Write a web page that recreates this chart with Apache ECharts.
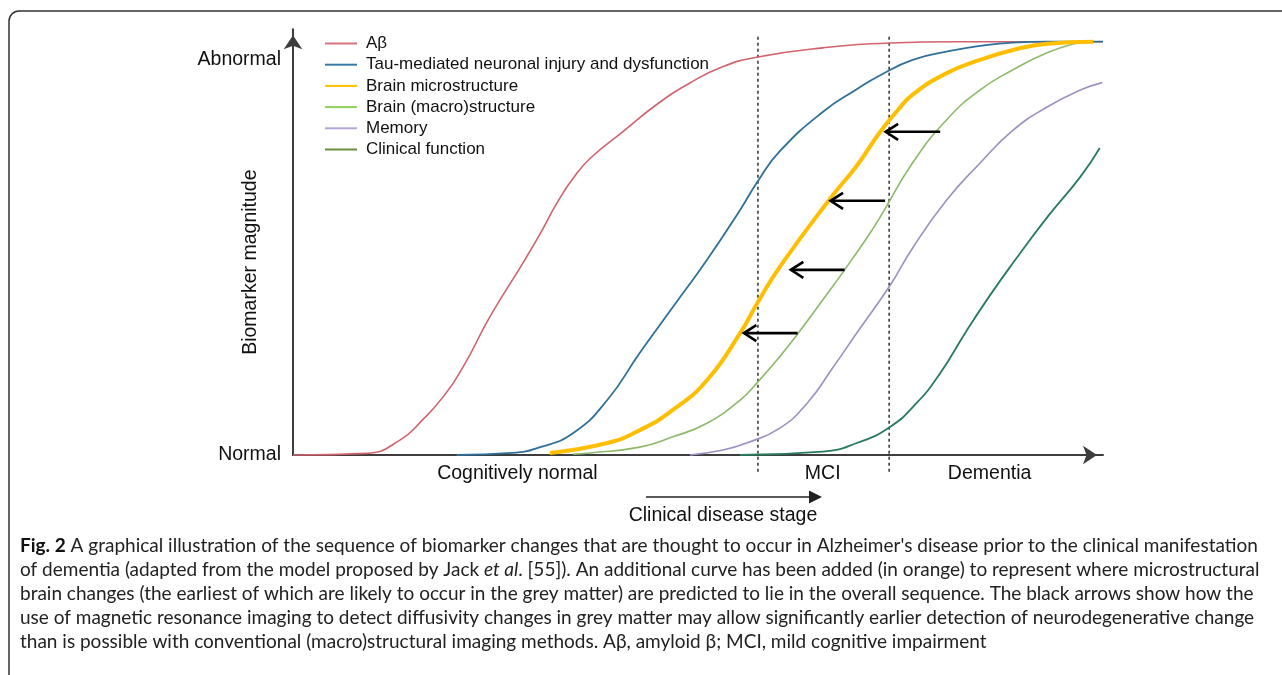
<!DOCTYPE html>
<html><head><meta charset="utf-8">
<script src="https://cdn.jsdelivr.net/npm/echarts@6/dist/echarts.min.js"></script>
<style>html,body{margin:0;padding:0;background:#fff}#c{width:1282px;height:675px}</style>
</head><body><div id="c"></div>
<script>
// ---- data (x: disease progression 0-100, y: biomarker magnitude 0-100) ----
const seriesNames = ['Aβ','Tau-mediated neuronal injury and dysfunction','Brain microstructure','Brain (macro)structure','Memory','Clinical function'];
const abeta = [[0,0],[9.1,0.4],[13.2,3.6],[16.0,8.5],[18.5,14.0],[21.0,21.3],[24.3,33.4],[28.4,46.5],[30.5,53.5],[32.6,61.0],[34.6,67.0],[36.7,71.8],[40.7,78.2],[44.9,84.8],[49.0,90.0],[53.1,94.0],[57.4,96.3],[65.4,98.5],[73.7,99.7],[82.0,100],[100,100]];
const tau = [[20.2,0],[27.0,0.5],[30.5,1.9],[34.6,5.3],[38.8,13.3],[42.8,24.7],[46.9,35.8],[51.1,47.2],[55.2,59.3],[57.4,66.3],[60.1,73.5],[65.4,83.0],[69.6,88.5],[72.5,91.9],[76.5,95.6],[80.7,97.6],[84.8,99.0],[88.9,99.8],[93.1,100],[100,100]];
const micro = [[31.7,0.5],[38.8,2.9],[42.8,6.0],[46.9,10.9],[51.1,18.1],[55.2,29.5],[57.4,37.0],[60.1,45.5],[66.3,62.0],[69.6,70.0],[72.5,78.2],[74.6,83.3],[76.5,87.2],[80.7,92.4],[84.8,95.6],[88.9,98.0],[93.1,99.5],[98.8,100]];
const macro = [[34.6,0.2],[36.7,0.5],[42.8,1.9],[46.9,4.4],[51.1,7.7],[55.2,13.3],[57.4,17.7],[60.1,23.8],[62.3,29.3],[65.4,37.5],[68.1,44.8],[70.9,52.7],[72.5,57.6],[76.5,70.7],[80.7,81.1],[84.8,88.3],[88.9,93.2],[93.1,97.3],[96.8,99.7],[98.0,100]];
const memory = [[49.0,0],[53.1,1.2],[56.0,2.9],[60.1,6.5],[63.5,12.6],[66.7,21.3],[69.6,29.5],[73.7,41.0],[76.5,50.1],[80.7,61.7],[84.8,70.6],[88.9,78.6],[93.1,84.2],[97.2,88.3],[99.9,90.1]];
const clinical = [[55.2,0],[65.4,0.8],[69.6,2.9],[73.7,6.8],[77.0,12.6],[79.9,19.8],[83.2,30.2],[86.0,38.5],[88.9,46.5],[93.1,57.5],[97.2,67.3],[99.6,74.3]];
const stageBounds = [57.4, 73.6];
// arrows: [tail x on macro curve, head x on micro curve, y]
const detectionArrows = [[62.3,55.6,29.5],[68.1,61.4,44.8],[73.1,66.3,61.5],[79.9,73.1,78.2]];
const xLabelNames = ['Cognitively normal','MCI','Dementia'];
const xLabelPos = [27.7, 65.4, 86.0];
const yLabelNames = ['Normal','Abnormal'];
const yLabelPos = [0, 95.6];
const captionLines = [
 "Fig. 2 A graphical illustration of the sequence of biomarker changes that are thought to occur in Alzheimer's disease prior to the clinical manifestation",
 "of dementia (adapted from the model proposed by Jack et al. [55]). An additional curve has been added (in orange) to represent where microstructural",
 "brain changes (the earliest of which are likely to occur in the grey matter) are predicted to lie in the overall sequence. The black arrows show how the",
 "use of magnetic resonance imaging to detect diffusivity changes in grey matter may allow significantly earlier detection of neurodegenerative change",
 "than is possible with conventional (macro)structural imaging methods. Aβ, amyloid β; MCI, mild cognitive impairment"
];

const curveData = [abeta, tau, micro, macro, memory, clinical];
const curveColors = ['#d2636d','#2f6f99','#ffbf00','#8cb96a','#9d8fc0','#2a7b5c'];
const legendColors = ['#d6747e','#3a7ca8','#ffc000','#8fd05a','#b4a7d6','#6a8f3e'];
const curveWidths = [1.6,1.8,4,1.6,1.6,1.8];

const FONT = '"Liberation Sans", Arial, Helvetica, sans-serif';
const CAPFONT = 'Lato, "Open Sans", sans-serif';

const cv = document.createElement('canvas').getContext('2d');
cv.font = '100px ' + CAPFONT;
const w100 = cv.measureText(captionLines[0]).width;
let capSize = Math.max(14, Math.min(19, 100 * 1242 / w100));

const chart = echarts.init(document.getElementById('c'), null, {renderer:'canvas'});

const series = curveData.map((d,i)=>({
  name: seriesNames[i], type:'line', data:d, smooth:0.5,
  symbol:'none', showSymbol:false, clip:false, z: i===2 ? 4 : 3,
  lineStyle:{color:curveColors[i], width:curveWidths[i]}, itemStyle:{color:curveColors[i]}
}));

series.push({
  type:'custom', data: stageBounds.map(v=>[v,0]), clip:false, silent:true, z:2,
  encode:{x:0,y:1},
  renderItem:(params, api)=>{
    const top = api.coord([api.value(0), 101.2]);
    const bot = api.coord([api.value(0), 0]);
    return {type:'line', shape:{x1:top[0],y1:top[1],x2:bot[0],y2:bot[1]+17},
      style:{stroke:'#3a3a3a', lineWidth:1.6, lineDash:[3,3]}};
  }
});
series.push({
  type:'custom', data: detectionArrows, clip:false, silent:true, z:6,
  encode:{x:[0,1],y:2},
  renderItem:(params, api)=>{
    const t = api.coord([api.value(0), api.value(2)]);
    const h = api.coord([api.value(1), api.value(2)]);
    return {type:'group', children:[
      {type:'line', shape:{x1:t[0],y1:t[1],x2:h[0]+1,y2:h[1]}, style:{stroke:'#000', lineWidth:2.6}},
      {type:'polyline', shape:{points:[[h[0]+13,h[1]-8],[h[0]+0.5,h[1]],[h[0]+13,h[1]+8]]}, style:{stroke:'#000', lineWidth:2.6, fill:null}}
    ]};
  }
});

const caption = captionLines.map((line,i)=>{
  let text;
  if (i===0) text = '{b|Fig. 2}{n|' + line.slice(6) + '}';
  else if (i===1) { const k = line.indexOf('et al'); text = '{n|'+line.slice(0,k)+'}{it|et al}{n|'+line.slice(k+5)+'}'; }
  else text = '{n|'+line+'}';
  return {type:'text', left:20, top: 548 + i*24 - capSize*0.62, silent:true,
    style:{text:text, rich:{
      n:{fontFamily:CAPFONT, fontSize:capSize, fill:'#222'},
      b:{fontFamily:CAPFONT, fontSize:capSize, fontWeight:'bold', fill:'#111'},
      it:{fontFamily:CAPFONT, fontSize:capSize, fontStyle:'italic', fill:'#222'}
    }}};
});

chart.setOption({
  animation:false,
  backgroundColor:'#fff',
  textStyle:{fontFamily:FONT},
  grid:{left:293, right:179, top:29.3, bottom:220, containLabel:false},
  legend:{
    orient:'vertical', left:320, top:30, itemWidth:32, itemHeight:14, itemGap:4.2,
    icon:'path://M0,6 L32,6 L32,8 L0,8 Z',
    textStyle:{fontFamily:FONT, fontSize:17, color:'#111', padding:[0,0,0,4]},
    data: seriesNames.map((n,i)=>({name:n, itemStyle:{color:legendColors[i]}, lineStyle:{color:legendColors[i], width:3}}))
  },
  xAxis:{
    type:'value', min:0, max:100,
    axisLine:{show:true, lineStyle:{color:'#3d3d3d', width:2}, symbol:['none','arrow'], symbolSize:[14,14], symbolOffset:[0,-6]},
    axisTick:{show:false}, splitLine:{show:false},
    axisLabel:{customValues:xLabelPos, margin:9, fontSize:19.5, color:'#111', fontFamily:FONT,
      formatter:(v)=>{const k = xLabelPos.findIndex(p=>Math.abs(p-v)<0.01); return k>=0 ? xLabelNames[k] : '';}}
  },
  yAxis:{
    type:'value', min:0, max:103,
    name:'Biomarker magnitude', nameLocation:'middle', nameGap:32, nameRotate:90, nameMoveOverlap:false,
    nameTextStyle:{fontSize:19.5, color:'#111', fontFamily:FONT, padding:[0,40,0,0]},
    axisLine:{show:true, lineStyle:{color:'#3d3d3d', width:2}, symbol:['none','arrow'], symbolSize:[14,14], symbolOffset:[0,-6]},
    axisTick:{show:false}, splitLine:{show:false},
    axisLabel:{customValues:yLabelPos, margin:12, fontSize:19.5, color:'#111', fontFamily:FONT,
      formatter:(v)=>{const k = yLabelPos.findIndex(p=>Math.abs(p-v)<0.01); return k>=0 ? yLabelNames[k] : '';}}
  },
  series: series,
  graphic:[
    {type:'rect', silent:true, z:-1, shape:{x:9, y:11, width:1300, height:700, r:10}, style:{fill:'none', stroke:'#333', lineWidth:1.5}},
    {type:'line', silent:true, shape:{x1:646, y1:497, x2:812, y2:497}, style:{stroke:'#222', lineWidth:1.6}},
    {type:'polygon', silent:true, shape:{points:[[809,490.5],[822,497],[809,503.5]]}, style:{fill:'#222'}},
    {type:'text', silent:true, x:723, y:516, style:{text:'Clinical disease stage', fontFamily:FONT, fontSize:19.5, fill:'#111', align:'center', verticalAlign:'middle'}},
    ...caption
  ]
});
</script></body></html>
